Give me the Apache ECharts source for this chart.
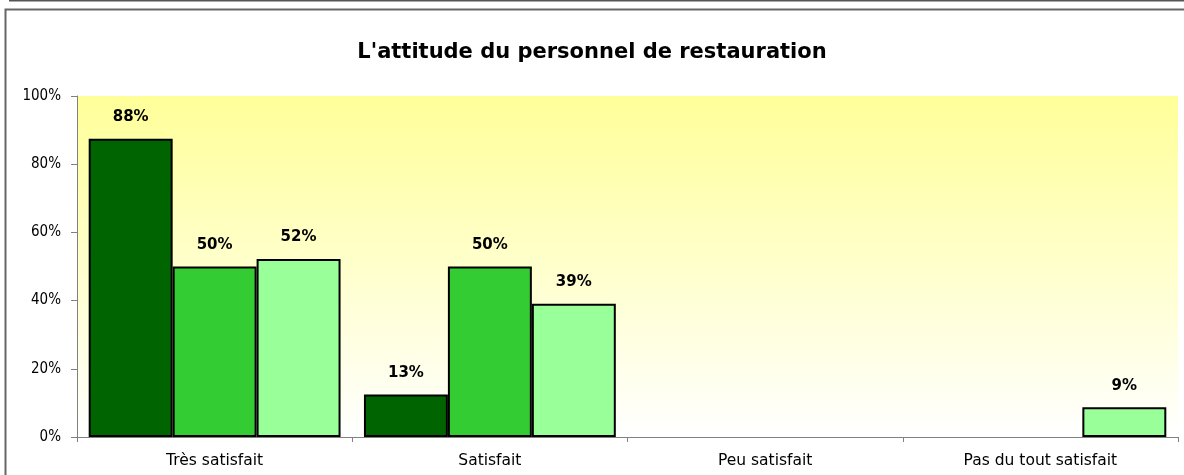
<!DOCTYPE html>
<html>
<head>
  <meta charset="utf-8">
  <title>L'attitude du personnel de restauration</title>
  <script src="https://cdn.jsdelivr.net/npm/echarts@6/dist/echarts.min.js"></script>
  <style>
    html, body { margin: 0; padding: 0; background: #fff; }
    #chart { width: 1184px; height: 475px; }
  </style>
</head>
<body>
  <div id="chart"></div>
  <script>
  // données (en %)
  var categories = ['Très satisfait', 'Satisfait', 'Peu satisfait', 'Pas du tout satisfait'];
  var serie1 = [87.5, 12.5, 0, 0];
  var serie2 = [50, 50, 0, 0];
  var serie3 = [52.2, 39.1, 0, 8.7];
  var yTicks = [0, 20, 40, 60, 80, 100];

  var couleurs = ['#006400', '#33CC33', '#99FF99'];
  var font = 'DejaVu Sans, Verdana, sans-serif';
  var fontNarrow = 'DejaVu Sans Condensed, DejaVu Sans, sans-serif';

  function toData(arr) {
    // pas de barre quand la valeur est nulle
    return arr.map(function (v) { return v === 0 ? '-' : v; });
  }

  function makeSerie(arr, i) {
    return {
      type: 'bar',
      data: toData(arr),
      barGap: '0%',
      barCategoryGap: '8.5%',
      itemStyle: { color: couleurs[i], borderColor: '#000', borderWidth: 2 },
      label: {
        show: true,
        position: 'top',
        distance: 14,
        color: '#000',
        fontFamily: font,
        fontWeight: 'bold',
        fontSize: 15,
        formatter: function (p) { return Math.round(p.value) + '%'; }
      },
      emphasis: { disabled: true }
    };
  }

  var chart = echarts.init(document.getElementById('chart'));
  chart.setOption({
    animation: false,
    title: {
      text: "L'attitude du personnel de restauration",
      left: 'center',
      top: 37,
      textStyle: { fontFamily: font, fontWeight: 'bold', fontSize: 21, color: '#000' }
    },
    graphic: [
      { type: 'line', shape: { x1: 9, y1: 0.5, x2: 1184, y2: 0.5 }, style: { stroke: '#555', lineWidth: 2 }, silent: true },
      { type: 'polyline', shape: { points: [[5.5, 475], [5.5, 9.5], [1184, 9.5]] }, style: { stroke: '#666', fill: null, lineWidth: 2 }, silent: true }
    ],
    grid: {
      left: 77, right: 6, top: 96, bottom: 38,
      show: true,
      borderWidth: 0,
      backgroundColor: new echarts.graphic.LinearGradient(0, 0, 0, 1, [
        { offset: 0, color: '#FFFF99' },
        { offset: 1, color: '#FFFFFF' }
      ])
    },
    xAxis: {
      type: 'category',
      data: categories,
      axisLine: { lineStyle: { color: '#808080', width: 1 } },
      axisTick: { show: true, length: 5, lineStyle: { color: '#808080' } },
      axisLabel: { color: '#000', fontFamily: font, fontSize: 15.5, margin: 16 }
    },
    yAxis: {
      type: 'value',
      min: yTicks[0],
      max: yTicks[yTicks.length - 1],
      interval: 20,
      splitLine: { show: false },
      axisLine: { show: true, lineStyle: { color: '#808080', width: 1 } },
      axisTick: { show: true, length: 6, lineStyle: { color: '#808080' } },
      axisLabel: { color: '#000', fontFamily: fontNarrow, fontSize: 15, margin: 16, formatter: '{value}%' }
    },
    series: [makeSerie(serie1, 0), makeSerie(serie2, 1), makeSerie(serie3, 2)]
  });
  </script>
</body>
</html>
